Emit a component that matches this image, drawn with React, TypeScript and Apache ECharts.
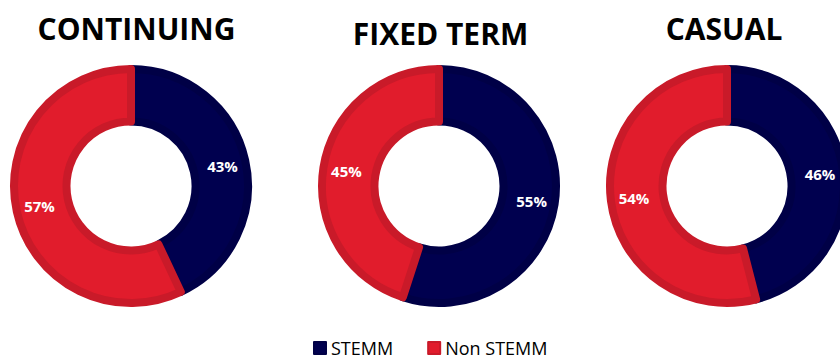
import React, { useEffect, useRef } from "react";
import * as echarts from "echarts";

const groups = ["CONTINUING", "FIXED TERM", "CASUAL"];
const categories = ["STEMM", "Non STEMM"];
const stemmValues = [43, 55, 46];
const nonStemmValues = [57, 45, 54];

const centers: [number, number][] = [
  [131, 186],
  [439, 186],
  [727, 186],
];
const titleCenters = [136.5, 440.5, 724];
const titleTops = [13, 18, 13];

const NAVY = "#00004F";
const NAVY_DARK = "#000046";
const RED = "#E11C2C";
const RED_DARK = "#C91A29";

export default function App() {
  const ref = useRef<HTMLDivElement>(null);
  useEffect(() => {
    document.body.style.margin = "0";
    const chart = echarts.init(ref.current!, null, { renderer: "svg" });
    const series: any[] = groups.map((g, i) => ({
      type: "pie",
      name: g,
      center: centers[i],
      radius: [64.5, 117],
      startAngle: 90,
      clockwise: true,
      silent: true,
      label: {
        show: true,
        position: "inside",
        formatter: "{c}%",
        color: "#fff",
        fontSize: 15,
        fontWeight: "bold",
        fontFamily: "Open Sans",
      },
      labelLine: { show: false },
      data: [
        {
          name: categories[0],
          value: stemmValues[i],
          itemStyle: { color: NAVY, borderColor: NAVY_DARK, borderWidth: 8 },
        },
        {
          name: categories[1],
          value: nonStemmValues[i],
          itemStyle: { color: RED, borderColor: RED_DARK, borderWidth: 8 },
        },
      ],
    }));
    chart.setOption({
      animation: false,
      color: [NAVY, RED],
      legend: {
        data: categories,
        left: 313,
        top: 339,
        padding: 0,
        icon: "rect",
        itemWidth: 12,
        itemHeight: 12,
        itemGap: 34,
        textStyle: {
          fontSize: 18,
          lineHeight: 18,
          color: "#000",
          fontFamily: "Open Sans",
        },
      },
      graphic: groups.map((g, i) => ({
        type: "text",
        x: titleCenters[i],
        y: titleTops[i],
        style: {
          text: g,
          textAlign: "center",
          textVerticalAlign: "top",
          fontSize: 30,
          fontWeight: "bold",
          fontFamily: "Open Sans",
          fill: "#000",
        },
      })),
      series,
    });
    return () => chart.dispose();
  }, []);
  return <div ref={ref} style={{ width: 840, height: 361 }} />;
}
